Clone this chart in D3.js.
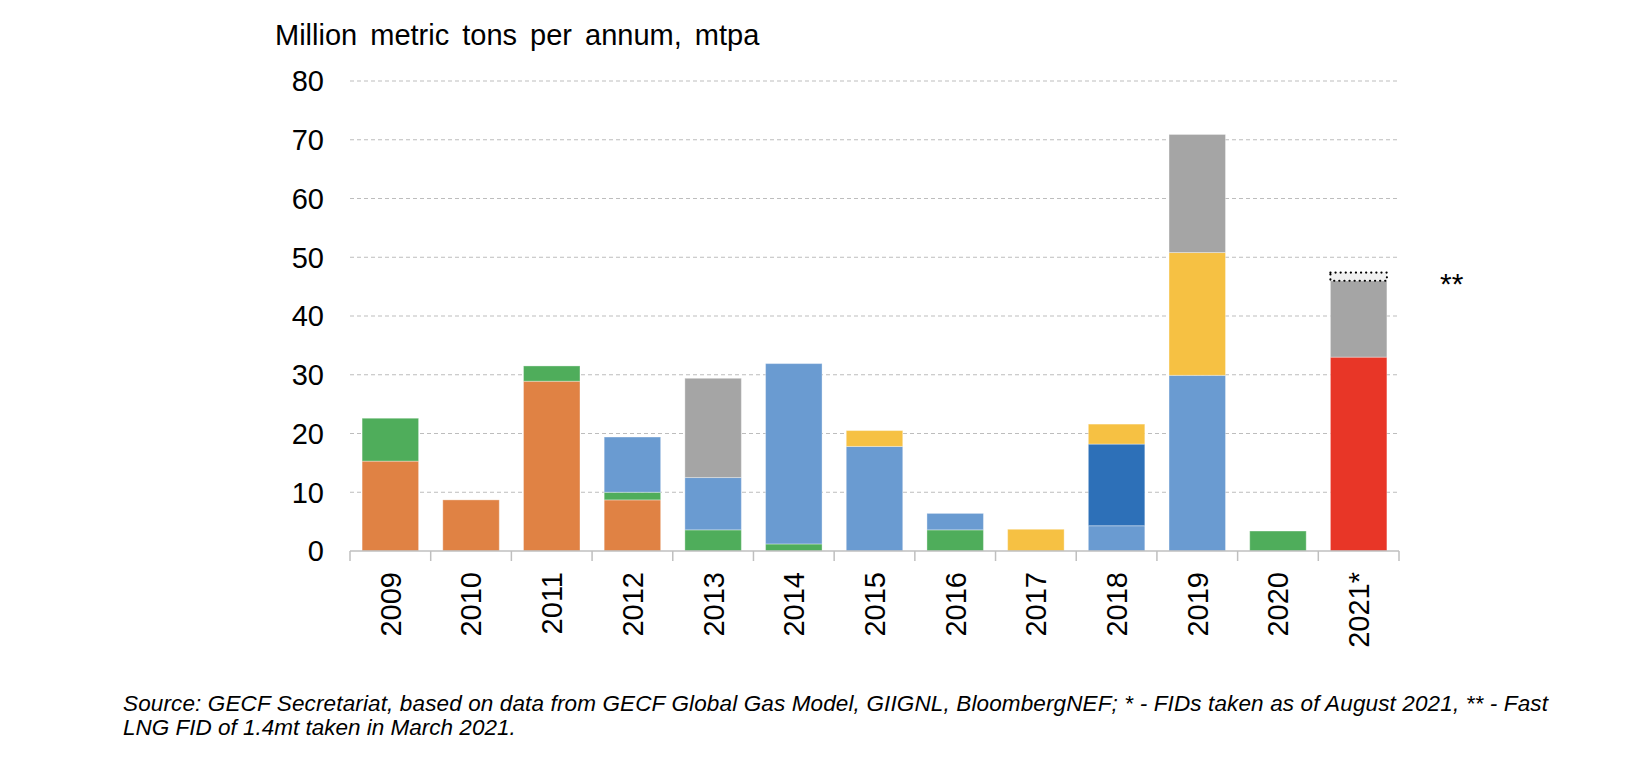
<!DOCTYPE html>
<html>
<head>
<meta charset="utf-8">
<script src="https://cdn.jsdelivr.net/npm/d3@7"></script>
<style>
  body { margin: 0; background: #fff; }
  svg { display: block; font-family: "Liberation Sans", Arial, sans-serif; }
</style>
</head>
<body>
<div id="chart"></div>
<script>
// years (x categories)
const years = ["2009", "2010", "2011", "2012", "2013", "2014", "2015", "2016", "2017", "2018", "2019", "2020", "2021*"];

// series, stacked bottom to top (mtpa)
const qatar     = [0, 0, 0, 0, 0, 0, 0, 0, 0, 0, 0, 0, 33.0];
const australia = [15.3, 8.7, 28.9, 8.7, 0, 0, 0, 0, 0, 0, 0, 0, 0];
const other     = [7.3, 0, 2.6, 1.3, 3.6, 1.2, 0, 3.6, 0, 0, 0, 3.4, 0];
const usa       = [0, 0, 0, 9.4, 8.9, 30.7, 17.8, 2.8, 0, 4.3, 29.9, 0, 0];
const canada    = [0, 0, 0, 0, 0, 0, 0, 0, 0, 13.9, 0, 0, 0];
const africa    = [0, 0, 0, 0, 0, 0, 2.7, 0, 3.7, 3.4, 20.9, 0, 0];
const russia    = [0, 0, 0, 0, 16.9, 0, 0, 0, 0, 0, 20.1, 0, 13.0];
const fastLng   = [0, 0, 0, 0, 0, 0, 0, 0, 0, 0, 0, 0, 1.4];

const seriesKeys = ["qatar", "australia", "other", "usa", "canada", "africa", "russia", "fastLng"];
const seriesValues = { qatar, australia, other, usa, canada, africa, russia, fastLng };
const seriesColors = {
  qatar: "#e83627",
  australia: "#e08244",
  other: "#4fad5b",
  usa: "#6a9bd1",
  canada: "#2d70b8",
  africa: "#f6c143",
  russia: "#a5a5a5",
  fastLng: "#f0f0f0"
};

const yTicks = [0, 10, 20, 30, 40, 50, 60, 70, 80];

const title = "Million metric tons per annum, mtpa";
const noteLines = [
  "Source: GECF Secretariat, based on data from GECF Global Gas Model, GIIGNL, BloombergNEF; * - FIDs taken as of August 2021, ** - Fast",
  "LNG FID of 1.4mt taken in March 2021."
];

const W = 1640, H = 758;
const plotLeft = 350, plotRight = 1399, plotTop = 81, plotBottom = 551;

const table = years.map((yr, i) => {
  const row = { year: yr };
  seriesKeys.forEach(k => row[k] = seriesValues[k][i]);
  return row;
});

const stacked = d3.stack().keys(seriesKeys)(table);

const svg = d3.select("#chart")
  .append("svg")
    .attr("width", W)
    .attr("height", H);

const x = d3.scaleBand()
  .domain(years)
  .range([plotLeft, plotRight])
  .paddingInner(0.3)
  .paddingOuter(0.15);

const y = d3.scaleLinear()
  .domain([0, 80])
  .range([plotBottom, plotTop]);

// gridlines
svg.append("g")
  .selectAll("line")
  .data(yTicks.filter(d => d > 0))
  .join("line")
    .attr("x1", plotLeft)
    .attr("x2", plotRight)
    .attr("y1", d => y(d))
    .attr("y2", d => y(d))
    .attr("stroke", "#bdbdbd")
    .attr("stroke-width", 1)
    .attr("stroke-dasharray", "4,3");

// y tick labels
svg.append("g")
  .selectAll("text")
  .data(yTicks)
  .join("text")
    .attr("x", 324)
    .attr("y", d => y(d))
    .attr("dy", "0.36em")
    .attr("text-anchor", "end")
    .attr("font-size", 29)
    .attr("fill", "#000")
    .text(d => d);

// bars
const layer = svg.append("g")
  .selectAll("g")
  .data(stacked)
  .join("g")
    .attr("fill", d => seriesColors[d.key]);

layer.selectAll("rect")
  .data(d => d.filter(p => p[1] - p[0] > 0).map(p => Object.assign(p, { key: d.key })))
  .join("rect")
    .attr("x", d => x(d.data.year))
    .attr("width", x.bandwidth())
    .attr("y", d => y(d[1]))
    .attr("height", d => y(d[0]) - y(d[1]))
    .attr("stroke", d => d.key === "fastLng" ? "#000" : "#fff")
    .attr("stroke-opacity", d => d.key === "fastLng" ? 1 : 0.35)
    .attr("stroke-width", d => d.key === "fastLng" ? 2.2 : 1)
    .attr("stroke-linecap", d => d.key === "fastLng" ? "round" : null)
    .attr("stroke-dasharray", d => d.key === "fastLng" ? "0.1,5" : null);

// x axis line + ticks between categories
const axis = svg.append("g").attr("stroke", "#bfbfbf").attr("stroke-width", 1.5);
axis.append("line")
  .attr("x1", plotLeft).attr("x2", plotRight)
  .attr("y1", plotBottom).attr("y2", plotBottom);
axis.selectAll("line.tick")
  .data(d3.range(years.length + 1))
  .join("line")
    .attr("class", "tick")
    .attr("x1", i => plotLeft + i * (plotRight - plotLeft) / years.length)
    .attr("x2", i => plotLeft + i * (plotRight - plotLeft) / years.length)
    .attr("y1", plotBottom)
    .attr("y2", plotBottom + 10);

// x labels, rotated
svg.append("g")
  .selectAll("text")
  .data(years)
  .join("text")
    .attr("transform", d => `translate(${x(d) + x.bandwidth() / 2},572) rotate(-90)`)
    .attr("dy", "0.36em")
    .attr("text-anchor", "end")
    .attr("font-size", 29)
    .attr("fill", "#000")
    .text(d => d);

// ** marker next to last bar
const lastTop = d3.sum(seriesKeys, k => seriesValues[k][years.length - 1]);
svg.append("text")
  .attr("x", 1440)
  .attr("y", y(lastTop) + 21)
  .attr("font-size", 30)
  .attr("fill", "#000")
  .text("**");

// axis title
svg.append("text")
  .attr("x", 275)
  .attr("y", 45)
  .attr("font-size", 29)
  .attr("fill", "#000")
  .style("word-spacing", "5px")
  .text(title);

// source note
svg.append("g")
  .selectAll("text")
  .data(noteLines)
  .join("text")
    .attr("x", 123)
    .attr("y", (d, i) => 711 + i * 24)
    .attr("font-size", 22.5)
    .attr("font-style", "italic")
    .attr("fill", "#000")
    .attr("textLength", (d, i) => i === 0 ? 1425 : null)
    .attr("lengthAdjust", "spacing")
    .text(d => d);
</script>
</body>
</html>
